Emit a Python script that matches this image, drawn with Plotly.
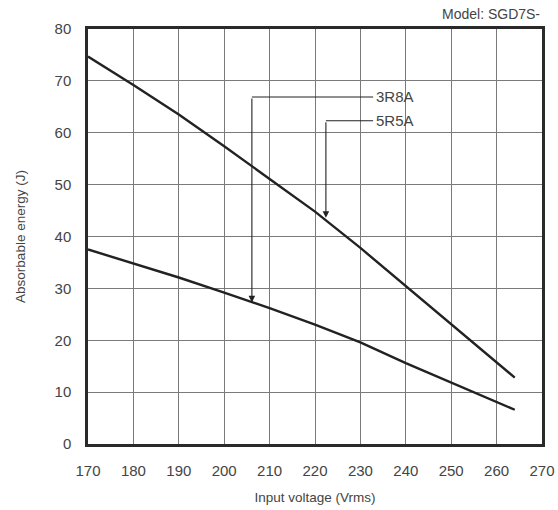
import plotly.graph_objects as go

# Absorbable regenerative energy vs. input voltage
voltage = [170, 180, 190, 200, 210, 220, 230, 240, 250, 260, 264]
energy_5r5a = [74.7, 69.2, 63.5, 57.4, 51.1, 44.8, 37.8, 30.5, 23.2, 15.9, 12.8]
energy_3r8a = [37.5, 34.8, 32.1, 29.2, 26.2, 23.0, 19.6, 15.6, 11.9, 8.1, 6.6]

x_ticks = list(range(170, 271, 10))
y_ticks = list(range(0, 81, 10))

# Leader-line callouts: (label, arrow tip x, arrow tip y, label row y)
callouts = [
    ("3R8A", 206.1, 27.3, 66.9),
    ("5R5A", 222.4, 43.6, 62.3),
]
label_x = 232.8

INK = "#222222"
TEXT = "#444444"
FONT = "Liberation Sans"

fig = go.Figure()
for series in (energy_5r5a, energy_3r8a):
    fig.add_trace(go.Scatter(
        x=voltage, y=series, mode="lines",
        line=dict(color=INK, width=2.4),
        showlegend=False, hoverinfo="skip",
    ))

for name, tip_x, tip_y, row_y in callouts:
    # vertical leg with arrowhead
    fig.add_annotation(
        x=tip_x, y=tip_y, ax=tip_x, ay=row_y,
        xref="x", yref="y", axref="x", ayref="y",
        showarrow=True, arrowhead=2, arrowsize=1.2, arrowwidth=1.1,
        arrowcolor=INK, text="",
    )
    # horizontal leg to the label
    fig.add_shape(
        type="line", xref="x", yref="y",
        x0=tip_x, y0=row_y, x1=label_x, y1=row_y,
        line=dict(color=INK, width=1.1),
    )
    fig.add_annotation(
        x=label_x, y=row_y, xref="x", yref="y",
        text=name, showarrow=False, xanchor="left", yanchor="middle",
        xshift=1, font=dict(family=FONT, size=15, color=TEXT),
    )

fig.add_annotation(
    x=1, y=1, xref="paper", yref="paper",
    text="Model: SGD7S-", showarrow=False,
    xanchor="right", yanchor="bottom", yshift=5,
    font=dict(family=FONT, size=14, color=TEXT),
)

axis_common = dict(
    showgrid=True, gridcolor="#7a7a7a", gridwidth=1,
    zeroline=False, automargin=False,
    showline=True, linecolor="#2a2a2a", linewidth=2.5, mirror=True,
    ticks="outside", tickcolor="rgba(0,0,0,0)",
    tickfont=dict(family=FONT, size=15, color=TEXT),
)

fig.update_xaxes(
    range=[170, 270], tickvals=x_ticks, ticklen=11,
    title=dict(text="Input voltage (Vrms)", standoff=15,
               font=dict(family=FONT, size=13.5, color=TEXT)),
    **axis_common,
)
fig.update_yaxes(
    range=[0, 80], tickvals=y_ticks, ticklen=11,
    title=dict(text="Absorbable energy (J)", standoff=26,
               font=dict(family=FONT, size=13.5, color=TEXT)),
    **axis_common,
)

fig.update_layout(
    width=558, height=510,
    margin=dict(l=88, r=16, t=29, b=66),
    paper_bgcolor="white", plot_bgcolor="white",
)

fig.write_html("out.html")
